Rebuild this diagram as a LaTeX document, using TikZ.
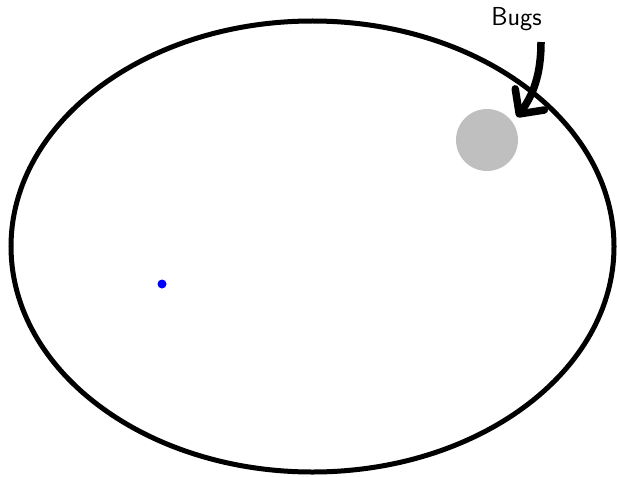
\documentclass[tikz,border=0pt]{standalone}
\usetikzlibrary{arrows.meta}

\begin{document}
\begin{tikzpicture}[x=1pt,y=-1pt,line width=5]
			\useasboundingbox (0,0) rectangle (617,476);
			\coordinate (c0) at (312.5,246.5);
			\coordinate (a0) at (541,42);
			\coordinate (a1) at (517,117);
			\draw[] (c0) ellipse [x radius=301.5, y radius=225.5];
			\node[circle,fill=gray!50,inner sep=0,minimum size=62] (bug) at (487,140) {};
			\node[circle,fill=blue,inner sep=0,minimum size=9] (dot) at (162,284) {};
			\node[anchor=base,inner sep=0] (lbl) at (516.5,26) {\fontsize{26}{31}\selectfont\sffamily Bugs};
			\draw[line width=7.5,-{Straight Barb[length=18,width=36,round]}] (a0) .. controls (541,75) and (533,95) .. (a1);
		\end{tikzpicture}
\end{document}
